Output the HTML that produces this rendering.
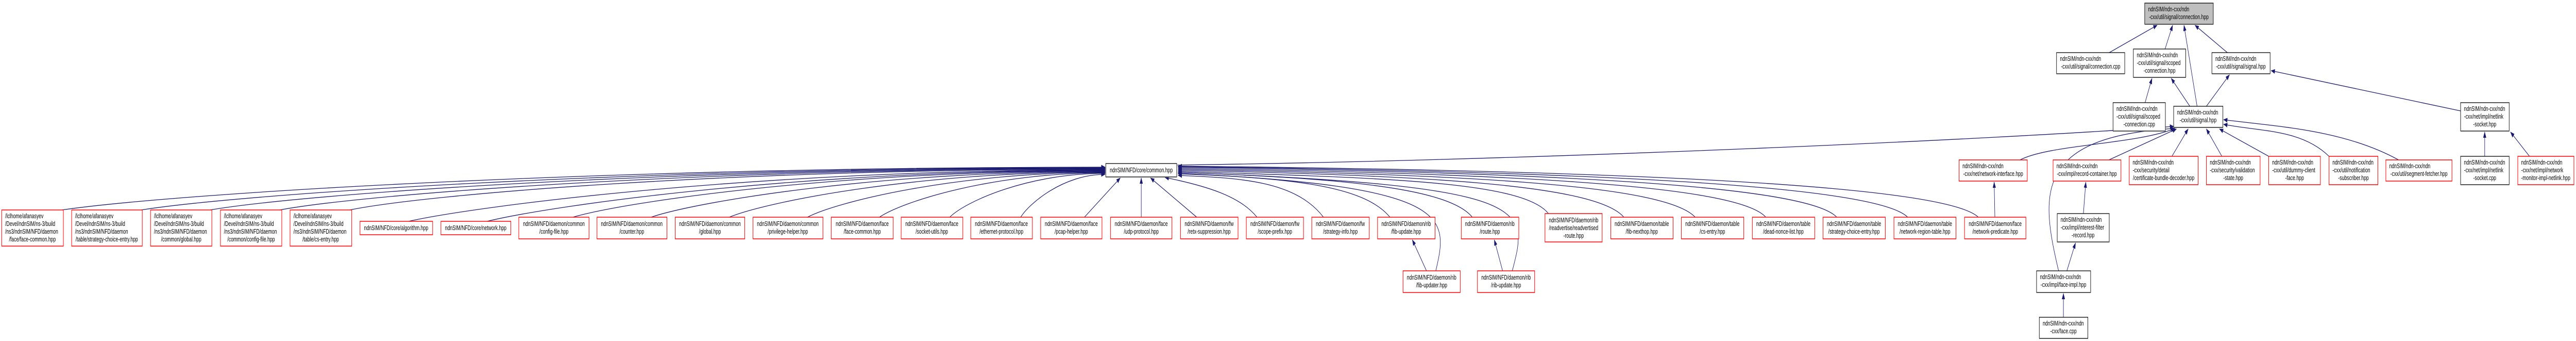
<!DOCTYPE html>
<html><head><meta charset="utf-8"><style>
html,body{margin:0;padding:0;background:#fff;overflow:hidden;width:100%;height:100%;}
svg{display:block;width:100vw;height:100vh;}
text{font-family:"Liberation Sans",sans-serif;font-size:13px;fill:#000;}
.e{fill:none;stroke:#191970;stroke-width:1.3;}
.r{fill:#fff;stroke:#f00;stroke-width:1.5;}
.b{fill:#fff;stroke:#000;stroke-width:1.3;}
.m{text-anchor:middle;}
</style></head><body>
<svg viewBox="0 0 7478 661" preserveAspectRatio="none" xmlns="http://www.w3.org/2000/svg">
<defs><marker id="a" markerWidth="12" markerHeight="9" refX="11" refY="4.5" orient="auto" markerUnits="userSpaceOnUse"><path d="M0,0 L12,4.5 L0,9 z" fill="#191970"/></marker></defs>

<g class="e" marker-end="url(#a)">
<path d="M6123,102 L6262,49"/>
<path d="M6285,95 L6307,49"/>
<path d="M6378,206 L6340,49"/>
<path d="M6466,102 L6372,49"/>
<path d="M6227,199 L6247,152"/>
<path d="M6357,206 L6303,152"/>
<path d="M6405,206 L6472,145"/>
<path d="M7143,215 L6593,137"/>
<path d="M7213,303 L7213,256"/>
<path d="M7343,303 L7288,256"/>
<path d="M6122,310 L6318,250"/>
<path d="M6305,303 L6352,250"/>
<path d="M6450,303 L6405,250"/>
<path d="M6586,303 L6443,250"/>
<path d="M6761,303 C6680,250 6560,255 6455,241"/>
<path d="M6963,310 C6800,250 6600,245 6455,232"/>
<path d="M5976,525 C5925,380 5900,265 6312,249"/>
<path d="M5864,310 C5950,280 6200,280 6314,249"/>
<path d="M3418,320 C4500,310 5800,270 6310,245"/>
<path d="M6048,414 L6055,353"/>
<path d="M6000,525 L6025,471"/>
<path d="M5990,615 L5990,569"/>
<path d="M5791,421 L5789,353"/>
<path d="M4141,525 L4100,465"/>
<path d="M4362,525 L4338,465"/>
<path d="M4168,525 C4205,420 4220,360 3420,336"/>
<path d="M4390,525 C4440,400 4450,360 3420,334"/>

<path d="M180,407 C483,377 1694,324 3208,324"/>
<path d="M410,407 C690,377 1809,325 3208,325"/>
<path d="M610,407 C870,377 1909,326 3208,326"/>
<path d="M812,407 C1052,377 2010,327 3208,327"/>
<path d="M1015,407 C1234,377 2112,328 3208,328"/>
<path d="M1186,429 C1388,399 2197,329 3208,329"/>
<path d="M1414,429 C1599,399 2314,330 3208,330"/>
<path d="M1663,421 C1817,391 2436,331 3208,331"/>
<path d="M1890,421 C2022,391 2549,332 3208,332"/>
<path d="M2117,421 C2226,391 2663,333 3208,333"/>
<path d="M2344,421 C2430,391 2776,334 3208,334"/>
<path d="M2553,421 C2619,391 2880,335 3208,335"/>
<path d="M2757,421 C2802,391 2983,336 3208,336"/>
<path d="M2963,421 C2987,395 3086,338 3208,338"/>
<path d="M3148,421 L3252,345"/>
<path d="M3313,421 L3313,345"/>
<path d="M3474,421 L3340,345"/>
<path d="M3649,421 C3600,380 3500,360 3382,344"/>
<path d="M3842,421 C3760,350 3600,345 3420,340"/>
<path d="M4035,421 C3960,360 3750,345 3420,337"/>
<path d="M4274,421 C4200,360 3850,345 3420,334"/>
<path d="M4495,414 C4420,350 4000,345 3420,332"/>
<path d="M4714,421 C4630,355 4100,340 3420,330"/>
<path d="M4921,421 C4830,355 4200,338 3420,328"/>
<path d="M5126,421 C5040,355 4300,336 3420,326"/>
<path d="M5332,421 C5240,355 4400,334 3420,324"/>
<path d="M5538,421 C5440,355 4500,332 3420,323"/>
<path d="M5743,421 C5640,355 4600,330 3420,322"/>
</g>

<g>
<rect x="6226" y="6" width="199" height="41" fill="#bfbfbf" stroke="#000" stroke-width="1.3"/><rect x="6226" y="46" width="199" height="2" fill="#555"/>
<text x="6236" y="22">ndnSIM/ndn-cxx/ndn</text><text x="6325" y="37" class="m">-cxx/util/signal/connection.hpp</text>

<rect class="b" x="5970" y="102" width="198" height="41"/><rect x="5970" y="142" width="198" height="2" fill="#555"/>
<text x="5980" y="118">ndnSIM/ndn-cxx/ndn</text><text x="6069" y="133" class="m">-cxx/util/signal/connection.cpp</text>

<rect class="b" x="6193" y="95" width="152" height="55"/><rect x="6193" y="149" width="152" height="2" fill="#555"/>
<text x="6203" y="111">ndnSIM/ndn-cxx/ndn</text><text x="6203" y="126">-cxx/util/signal/scoped</text><text x="6269" y="141" class="m">-connection.hpp</text>

<rect class="b" x="6421" y="102" width="169" height="41"/><rect x="6421" y="142" width="169" height="2" fill="#555"/>
<text x="6431" y="118">ndnSIM/ndn-cxx/ndn</text><text x="6505" y="133" class="m">-cxx/util/signal/signal.hpp</text>

<rect class="b" x="6134" y="199" width="152" height="55"/><rect x="6134" y="253" width="152" height="2" fill="#555"/>
<text x="6144" y="215">ndnSIM/ndn-cxx/ndn</text><text x="6144" y="230">-cxx/util/signal/scoped</text><text x="6210" y="245" class="m">-connection.cpp</text>

<rect class="b" x="6310" y="206" width="143" height="41"/><rect x="6310" y="246" width="143" height="2" fill="#555"/>
<text x="6320" y="222">ndnSIM/ndn-cxx/ndn</text><text x="6381" y="237" class="m">-cxx/util/signal.hpp</text>

<rect class="b" x="7143" y="199" width="141" height="55"/><rect x="7143" y="253" width="141" height="2" fill="#555"/>
<text x="7153" y="215">ndnSIM/ndn-cxx/ndn</text><text x="7153" y="230">-cxx/net/impl/netlink</text><text x="7213" y="245" class="m">-socket.hpp</text>

<rect class="b" x="7143" y="303" width="141" height="55"/><rect x="7143" y="357" width="141" height="2" fill="#555"/>
<text x="7153" y="319">ndnSIM/ndn-cxx/ndn</text><text x="7153" y="334">-cxx/net/impl/netlink</text><text x="7213" y="349" class="m">-socket.cpp</text>

<rect class="b" x="5972" y="414" width="151" height="55"/><rect x="5972" y="468" width="151" height="2" fill="#555"/>
<text x="5982" y="430">ndnSIM/ndn-cxx/ndn</text><text x="5982" y="445">-cxx/impl/interest-filter</text><text x="6047" y="460" class="m">-record.hpp</text>

<rect class="b" x="5912" y="525" width="157" height="42"/><rect x="5912" y="566" width="157" height="2" fill="#555"/>
<text x="5922" y="541">ndnSIM/ndn-cxx/ndn</text><text x="5990" y="556" class="m">-cxx/impl/face-impl.hpp</text>

<rect class="b" x="5920" y="615" width="141" height="41"/><rect x="5920" y="655" width="141" height="2" fill="#555"/>
<text x="5930" y="631">ndnSIM/ndn-cxx/ndn</text><text x="5990" y="646" class="m">-cxx/face.cpp</text>

<rect class="b" x="3210" y="317" width="206" height="26"/><rect x="3210" y="342" width="206" height="2" fill="#555"/>
<text x="3313" y="334" class="m">ndnSIM/NFD/core/common.hpp</text>
</g>

<g>
<rect class="r" x="5687" y="310" width="198" height="41"/>
<text x="5697" y="326">ndnSIM/ndn-cxx/ndn</text><text x="5786" y="341" class="m">-cxx/net/network-interface.hpp</text>

<rect class="r" x="5960" y="310" width="197" height="41"/>
<text x="5970" y="326">ndnSIM/ndn-cxx/ndn</text><text x="6058" y="341" class="m">-cxx/impl/record-container.hpp</text>

<rect class="r" x="6181" y="303" width="200" height="55"/>
<text x="6191" y="319">ndnSIM/ndn-cxx/ndn</text><text x="6191" y="334">-cxx/security/detail</text><text x="6281" y="349" class="m">/certificate-bundle-decoder.hpp</text>

<rect class="r" x="6405" y="303" width="156" height="55"/>
<text x="6415" y="319">ndnSIM/ndn-cxx/ndn</text><text x="6415" y="334">-cxx/security/validation</text><text x="6483" y="349" class="m">-state.hpp</text>

<rect class="r" x="6586" y="303" width="150" height="55"/>
<text x="6596" y="319">ndnSIM/ndn-cxx/ndn</text><text x="6596" y="334">-cxx/util/dummy-client</text><text x="6661" y="349" class="m">-face.hpp</text>

<rect class="r" x="6761" y="303" width="142" height="55"/>
<text x="6771" y="319">ndnSIM/ndn-cxx/ndn</text><text x="6771" y="334">-cxx/util/notification</text><text x="6832" y="349" class="m">-subscriber.hpp</text>

<rect class="r" x="6926" y="310" width="192" height="41"/>
<text x="6936" y="326">ndnSIM/ndn-cxx/ndn</text><text x="7022" y="341" class="m">-cxx/util/segment-fetcher.hpp</text>

<rect class="r" x="7309" y="303" width="163" height="55"/>
<text x="7319" y="319">ndnSIM/ndn-cxx/ndn</text><text x="7319" y="334">-cxx/net/impl/network</text><text x="7390" y="349" class="m">-monitor-impl-netlink.hpp</text>

<rect class="r" x="5" y="407" width="179" height="70"/>
<text x="15" y="423">/lclhome/afanasyev</text><text x="15" y="438">/Devel/ndnSIM/ns-3/build</text><text x="15" y="453">/ns3/ndnSIM/NFD/daemon</text><text x="94" y="468" class="m">/face/face-common.hpp</text>

<rect class="r" x="208" y="407" width="205" height="70"/>
<text x="218" y="423">/lclhome/afanasyev</text><text x="218" y="438">/Devel/ndnSIM/ns-3/build</text><text x="218" y="453">/ns3/ndnSIM/NFD/daemon</text><text x="310" y="468" class="m">/table/strategy-choice-entry.hpp</text>

<rect class="r" x="437" y="407" width="178" height="70"/>
<text x="447" y="423">/lclhome/afanasyev</text><text x="447" y="438">/Devel/ndnSIM/ns-3/build</text><text x="447" y="453">/ns3/ndnSIM/NFD/daemon</text><text x="526" y="468" class="m">/common/global.hpp</text>

<rect class="r" x="640" y="407" width="178" height="70"/>
<text x="650" y="423">/lclhome/afanasyev</text><text x="650" y="438">/Devel/ndnSIM/ns-3/build</text><text x="650" y="453">/ns3/ndnSIM/NFD/daemon</text><text x="729" y="468" class="m">/common/config-file.hpp</text>

<rect class="r" x="842" y="407" width="179" height="70"/>
<text x="852" y="423">/lclhome/afanasyev</text><text x="852" y="438">/Devel/ndnSIM/ns-3/build</text><text x="852" y="453">/ns3/ndnSIM/NFD/daemon</text><text x="931" y="468" class="m">/table/cs-entry.hpp</text>

<rect class="r" x="1045" y="429" width="211" height="26"/>
<text x="1150" y="446" class="m">ndnSIM/NFD/core/algorithm.hpp</text>

<rect class="r" x="1280" y="429" width="203" height="26"/>
<text x="1381" y="446" class="m">ndnSIM/NFD/core/network.hpp</text>

<rect class="r" x="1506" y="421" width="204" height="42"/>
<text x="1608" y="438" class="m">ndnSIM/NFD/daemon/common</text><text x="1608" y="453" class="m">/config-file.hpp</text>
<rect class="r" x="1733" y="421" width="203" height="42"/>
<text x="1834" y="438" class="m">ndnSIM/NFD/daemon/common</text><text x="1834" y="453" class="m">/counter.hpp</text>
<rect class="r" x="1960" y="421" width="202" height="42"/>
<text x="2061" y="438" class="m">ndnSIM/NFD/daemon/common</text><text x="2061" y="453" class="m">/global.hpp</text>
<rect class="r" x="2186" y="421" width="203" height="42"/>
<text x="2287" y="438" class="m">ndnSIM/NFD/daemon/common</text><text x="2287" y="453" class="m">/privilege-helper.hpp</text>
<rect class="r" x="2413" y="421" width="180" height="42"/>
<text x="2503" y="438" class="m">ndnSIM/NFD/daemon/face</text><text x="2503" y="453" class="m">/face-common.hpp</text>
<rect class="r" x="2616" y="421" width="179" height="42"/>
<text x="2705" y="438" class="m">ndnSIM/NFD/daemon/face</text><text x="2705" y="453" class="m">/socket-utils.hpp</text>
<rect class="r" x="2818" y="421" width="179" height="42"/>
<text x="2907" y="438" class="m">ndnSIM/NFD/daemon/face</text><text x="2907" y="453" class="m">/ethernet-protocol.hpp</text>
<rect class="r" x="3021" y="421" width="178" height="42"/>
<text x="3110" y="438" class="m">ndnSIM/NFD/daemon/face</text><text x="3110" y="453" class="m">/pcap-helper.hpp</text>
<rect class="r" x="3224" y="421" width="178" height="42"/>
<text x="3313" y="438" class="m">ndnSIM/NFD/daemon/face</text><text x="3313" y="453" class="m">/udp-protocol.hpp</text>
<rect class="r" x="3427" y="421" width="167" height="42"/>
<text x="3510" y="438" class="m">ndnSIM/NFD/daemon/fw</text><text x="3510" y="453" class="m">/retx-suppression.hpp</text>
<rect class="r" x="3618" y="421" width="166" height="42"/>
<text x="3701" y="438" class="m">ndnSIM/NFD/daemon/fw</text><text x="3701" y="453" class="m">/scope-prefix.hpp</text>
<rect class="r" x="3808" y="421" width="167" height="42"/>
<text x="3891" y="438" class="m">ndnSIM/NFD/daemon/fw</text><text x="3891" y="453" class="m">/strategy-info.hpp</text>
<rect class="r" x="3999" y="421" width="167" height="42"/>
<text x="4082" y="438" class="m">ndnSIM/NFD/daemon/rib</text><text x="4082" y="453" class="m">/fib-update.hpp</text>
<rect class="r" x="4242" y="421" width="167" height="42"/>
<text x="4325" y="438" class="m">ndnSIM/NFD/daemon/rib</text><text x="4325" y="453" class="m">/route.hpp</text>
<rect class="r" x="4485" y="414" width="166" height="55"/>
<text x="4568" y="431" class="m">ndnSIM/NFD/daemon/rib</text><text x="4568" y="446" class="m">/readvertise/readvertised</text><text x="4568" y="461" class="m">-route.hpp</text>
<rect class="r" x="4676" y="421" width="181" height="42"/>
<text x="4766" y="438" class="m">ndnSIM/NFD/daemon/table</text><text x="4766" y="453" class="m">/fib-nexthop.hpp</text>
<rect class="r" x="4881" y="421" width="181" height="42"/>
<text x="4971" y="438" class="m">ndnSIM/NFD/daemon/table</text><text x="4971" y="453" class="m">/cs-entry.hpp</text>
<rect class="r" x="5087" y="421" width="181" height="42"/>
<text x="5177" y="438" class="m">ndnSIM/NFD/daemon/table</text><text x="5177" y="453" class="m">/dead-nonce-list.hpp</text>
<rect class="r" x="5292" y="421" width="181" height="42"/>
<text x="5382" y="438" class="m">ndnSIM/NFD/daemon/table</text><text x="5382" y="453" class="m">/strategy-choice-entry.hpp</text>
<rect class="r" x="5498" y="421" width="180" height="42"/>
<text x="5588" y="438" class="m">ndnSIM/NFD/daemon/table</text><text x="5588" y="453" class="m">/network-region-table.hpp</text>
<rect class="r" x="5703" y="421" width="178" height="42"/>
<text x="5792" y="438" class="m">ndnSIM/NFD/daemon/face</text><text x="5792" y="453" class="m">/network-predicate.hpp</text>

<rect class="r" x="4073" y="525" width="166" height="42"/>
<text x="4156" y="542" class="m">ndnSIM/NFD/daemon/rib</text><text x="4156" y="557" class="m">/fib-updater.hpp</text>
<rect class="r" x="4289" y="525" width="166" height="42"/>
<text x="4372" y="542" class="m">ndnSIM/NFD/daemon/rib</text><text x="4372" y="557" class="m">/rib-update.hpp</text>
</g>
</svg>
</body></html>
